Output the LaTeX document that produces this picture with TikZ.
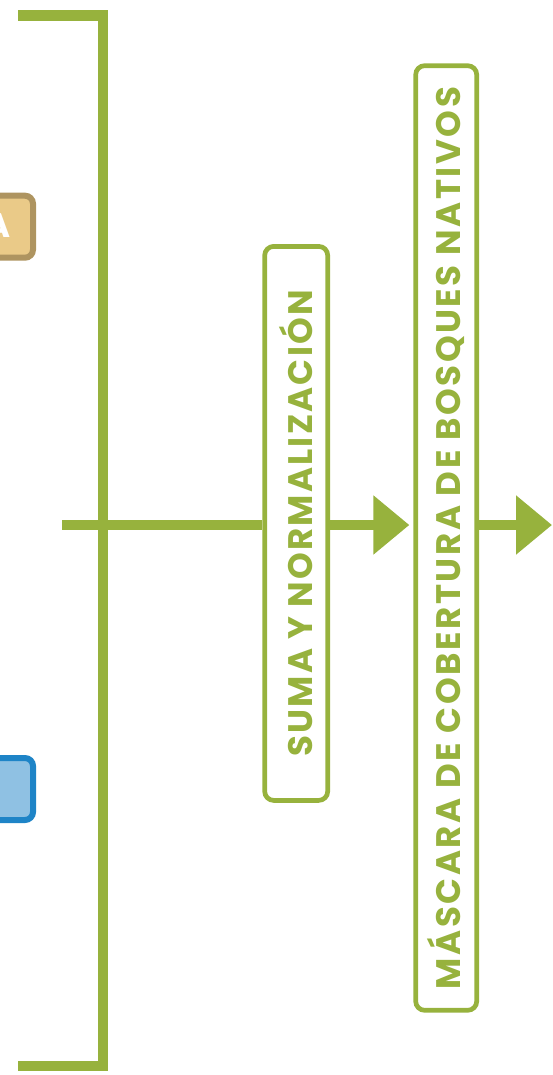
\documentclass[tikz,border=0pt]{standalone}
\usepackage{fontspec}
\newfontfamily\pop{Poppins}[LetterSpace=6.5]
\newfontfamily\popwide{Poppins}[LetterSpace=7.5]
\newfontfamily\popA{Poppins}
\usetikzlibrary{arrows.meta}
\definecolor{leaf}{HTML}{97B23D}
\definecolor{tanfill}{HTML}{EACA88}
\definecolor{tanline}{HTML}{AE9460}
\definecolor{bluefill}{HTML}{8FC1E3}
\definecolor{blueline}{HTML}{1E84C7}
\tikzset{
  stage/.style={draw=leaf, line width=4.7pt, rounded corners=9pt, rotate=90,
    text=leaf, font=\pop\bfseries\fontsize{34}{34}\selectfont, inner sep=0pt},
  flow/.style={draw=leaf, line width=10.5pt},
  flowarrow/.style={flow, -{Triangle[length=36pt,width=57pt]}},
  sidebox/.style={line width=6pt, rounded corners=8pt, minimum width=93pt, minimum height=62pt, inner sep=0pt},
}
\begin{document}
\begin{tikzpicture}[x=1pt,y=-1pt]
\useasboundingbox (0,0) rectangle (553,1075);
\clip (0,0) rectangle (553,1075);
% side boxes
\node[sidebox, draw=tanline, fill=tanfill] (tan) at (-13.5,226.7) {};
\node[anchor=base east, inner sep=0pt, text=white, font=\popA\bfseries\fontsize{34}{34}\selectfont] (tanA) at (10.5,237) {A};
\node[sidebox, draw=blueline, fill=bluefill] (blue) at (-13.5,789) {};
% bracket
\coordinate (btop) at (18,15.7);
\coordinate (bbot) at (18,1066);
\draw[flow, line join=miter] (btop) -- (103,15.7) -- (103,1066) -- (bbot);
% stages
\node[stage, minimum width=554pt, minimum height=63pt] (suma) at (296.2,523.4) {SUMA Y NORMALIZACIÓN\hspace{10pt}};
\node[stage, font=\popwide\bfseries\fontsize{34}{34}\selectfont, minimum width=944.6pt, minimum height=61pt] (mask) at (446.2,538) {MÁSCARA DE COBERTURA DE BOSQUES NATIVOS};
% connectors
\coordinate (start) at (62,525);
\coordinate (end) at (552,525);
\draw[flow] (start) -- (start -| suma.north);
\draw[flowarrow, shorten >=4pt] (start -| suma.south) -- (start -| mask.north);
\draw[flowarrow] (start -| mask.south) -- (end);
\end{tikzpicture}
\end{document}
